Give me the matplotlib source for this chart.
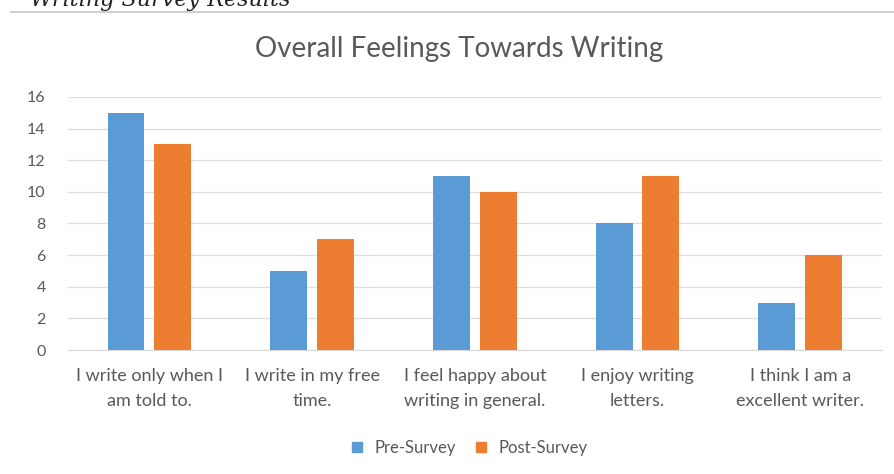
import numpy as np
import matplotlib.pyplot as plt
from matplotlib.lines import Line2D

plt.rcParams['font.family'] = ['Lato', 'DejaVu Sans']

categories = ['I write only when I\nam told to.', 'I write in my free\ntime.',
              'I feel happy about\nwriting in general.', 'I enjoy writing\nletters.',
              'I think I am a\nexcellent writer.']
pre_survey = [15, 5, 11, 8, 3]
post_survey = [13, 7, 10, 11, 6]
y_ticks = [0, 2, 4, 6, 8, 10, 12, 14, 16]

blue = '#5B9BD5'
orange = '#ED7D31'
grey_text = '#595959'

fig = plt.figure(figsize=(8.95, 4.74), dpi=100, facecolor='white')
ax = fig.add_axes([0.076, 0.2616, 0.909, 0.5338])

x = np.arange(len(categories))
w = 0.227
ax.bar(x - w / 2 - 0.03, pre_survey, width=w, color=blue, zorder=3)
ax.bar(x + w / 2 + 0.03, post_survey, width=w, color=orange, zorder=3)

ax.set_xlim(-0.5, len(categories) - 0.5)
ax.set_ylim(0, 16)
ax.set_yticks(y_ticks)
ax.set_xticks(x)
ax.set_xticklabels(categories, fontsize=13, color=grey_text, linespacing=1.65)
ax.tick_params(axis='y', labelsize=11.5, colors=grey_text, length=0, pad=16)
ax.tick_params(axis='x', length=0, pad=13)
ax.grid(axis='y', color='#DDDDDD', linewidth=0.9, zorder=0)
for s in ['top', 'right', 'left']:
    ax.spines[s].set_visible(False)
ax.spines['bottom'].set_color('#D9D9D9')

fig.text(0.513, 0.897, 'Overall Feelings Towards Writing', ha='center', va='center',
         fontsize=20, color=grey_text)

# cut-off caption above the chart
fig.text(0.325, 1.0, 'Writing Survey Results', ha='right', va='center',
         fontsize=16, style='italic', family='DejaVu Serif', color='#222222')
fig.add_artist(Line2D([0.012, 1.0], [0.974, 0.974], color='#D0D0D0', linewidth=1.5))

handles = [Line2D([], [], marker='s', linestyle='', color=blue, markersize=7),
           Line2D([], [], marker='s', linestyle='', color=orange, markersize=7)]
fig.legend(handles, ['Pre-Survey', 'Post-Survey'], loc='center', bbox_to_anchor=(0.518, 0.055),
           ncol=2, frameon=False, fontsize=12, labelcolor=grey_text, handletextpad=0.05,
           columnspacing=0.5)

fig.savefig('out.png', dpi=100, facecolor='white')
